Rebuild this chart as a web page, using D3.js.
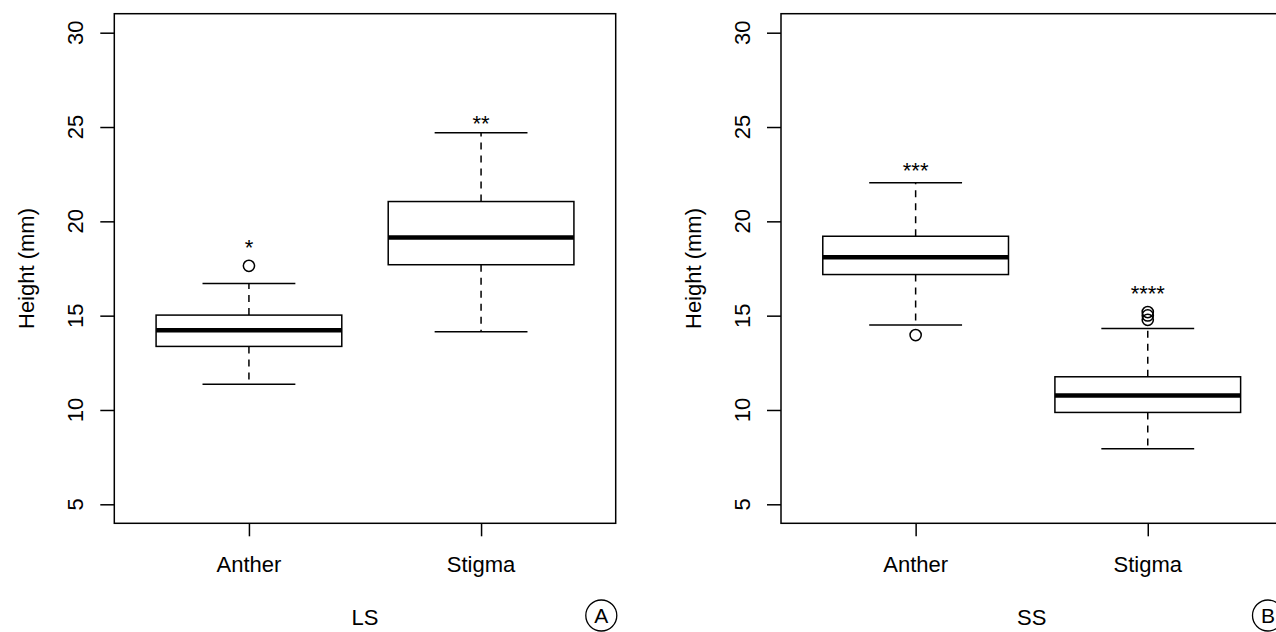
<!DOCTYPE html>
<html>
<head>
<meta charset="utf-8">
<script src="https://cdn.jsdelivr.net/npm/d3@7"></script>
<style>
  html, body { margin: 0; padding: 0; background: #fff; }
  svg { display: block; }
  text { font-family: "Liberation Sans", Arial, Helvetica, sans-serif; fill: #000; }
</style>
</head>
<body>
<svg id="chart" width="1276" height="632"></svg>
<script>
// ---- data ----
const groups = ["Anther", "Stigma"];
const panelNames = ["LS", "SS"];
const panelTags = ["A", "B"];
const yTicks = [5, 10, 15, 20, 25, 30];
const yTitle = "Height (mm)";

// LS panel
const lsLowerWhisker = [11.37, 14.15];
const lsQ1 = [13.37, 17.70];
const lsMedian = [14.22, 19.14];
const lsQ3 = [15.03, 21.05];
const lsUpperWhisker = [16.71, 24.70];
const lsOutliers = [[17.64], []];
const lsStars = ["*", "**"];
const lsStarAt = [18.9, 25.45];

// SS panel
const ssLowerWhisker = [14.50, 7.95];
const ssQ1 = [17.18, 9.87];
const ssMedian = [18.10, 10.77];
const ssQ3 = [19.21, 11.76];
const ssUpperWhisker = [22.04, 14.32];
const ssOutliers = [[13.97], [15.19, 15.01, 14.78]];
const ssStars = ["***", "****"];
const ssStarAt = [23.0, 16.45];

const panels = [
  { name: panelNames[0], tag: panelTags[0], lo: lsLowerWhisker, q1: lsQ1, med: lsMedian, q3: lsQ3, hi: lsUpperWhisker, out: lsOutliers, stars: lsStars, starAt: lsStarAt },
  { name: panelNames[1], tag: panelTags[1], lo: ssLowerWhisker, q1: ssQ1, med: ssMedian, q3: ssQ3, hi: ssUpperWhisker, out: ssOutliers, stars: ssStars, starAt: ssStarAt }
];

// ---- layout ----
const svg = d3.select("#chart");
const FS = 22;
const frameTop = 13.7, frameBottom = 523.3;
const frameW = 501.4;
const panelLeft = [114.3, 781];

const y = d3.scaleLinear().domain([5, 30]).range([504.3, 32.7]);

panels.forEach((p, pi) => {
  const L = panelLeft[pi];
  const x = d3.scaleLinear().domain([0.42, 2.58]).range([L, L + frameW]);
  const g = svg.append("g");
  const boxHW = x(1.4) - x(1);
  const capHW = x(1.2) - x(1);

  // frame
  g.append("rect")
    .attr("x", L).attr("y", frameTop)
    .attr("width", frameW).attr("height", frameBottom - frameTop)
    .attr("fill", "none").attr("stroke", "#000").attr("stroke-width", 1.5);

  // y axis
  const yAxis = d3.axisLeft(y).tickValues(yTicks).tickSize(14).tickFormat("");
  const ya = g.append("g").attr("transform", `translate(${L},0)`).call(yAxis);
  ya.select(".domain").remove();
  ya.selectAll("line").attr("stroke", "#000").attr("stroke-width", 1.5);
  g.selectAll(".ylab").data(yTicks).enter().append("text")
    .attr("transform", d => `translate(${L - 39},${y(d)}) rotate(-90)`)
    .attr("text-anchor", "middle").attr("dy", "0.35em")
    .style("font-size", FS + "px")
    .text(d => d);

  // x axis
  const xAxis = d3.axisBottom(x).tickValues([1, 2]).tickSize(13).tickFormat("");
  const xa = g.append("g").attr("transform", `translate(0,${frameBottom})`).call(xAxis);
  xa.select(".domain").remove();
  xa.selectAll("line").attr("stroke", "#000").attr("stroke-width", 1.5);
  g.selectAll(".xlab").data(groups).enter().append("text")
    .attr("x", (d, i) => x(i + 1)).attr("y", 572)
    .attr("text-anchor", "middle")
    .style("font-size", FS + "px")
    .text(d => d);

  // y title
  g.append("text")
    .attr("transform", `translate(${L - 88},${(frameTop + frameBottom) / 2}) rotate(-90)`)
    .attr("text-anchor", "middle").attr("dy", "0.35em")
    .style("font-size", FS + "px")
    .text(yTitle);

  // panel title
  g.append("text")
    .attr("x", L + frameW / 2).attr("y", 625)
    .attr("text-anchor", "middle")
    .style("font-size", FS + "px")
    .text(p.name);

  // tag circle
  const tx = L + 487;
  g.append("circle").attr("cx", tx).attr("cy", 615.5).attr("r", 15.5)
    .attr("fill", "none").attr("stroke", "#000").attr("stroke-width", 1.3);
  g.append("text").attr("x", tx).attr("y", 623)
    .attr("text-anchor", "middle")
    .style("font-size", "21px")
    .text(p.tag);

  // boxes
  groups.forEach((grp, i) => {
    const cx = x(i + 1);
    // whiskers (dashed)
    g.append("line").attr("x1", cx).attr("x2", cx)
      .attr("y1", y(p.q3[i])).attr("y2", y(p.hi[i]))
      .attr("stroke", "#000").attr("stroke-width", 1.5).attr("stroke-dasharray", "7,6");
    g.append("line").attr("x1", cx).attr("x2", cx)
      .attr("y1", y(p.q1[i])).attr("y2", y(p.lo[i]))
      .attr("stroke", "#000").attr("stroke-width", 1.5).attr("stroke-dasharray", "7,6");
    // caps
    [p.hi[i], p.lo[i]].forEach(v => {
      g.append("line").attr("x1", cx - capHW).attr("x2", cx + capHW)
        .attr("y1", y(v)).attr("y2", y(v))
        .attr("stroke", "#000").attr("stroke-width", 1.5);
    });
    // box
    g.append("rect")
      .attr("x", cx - boxHW).attr("width", 2 * boxHW)
      .attr("y", y(p.q3[i])).attr("height", y(p.q1[i]) - y(p.q3[i]))
      .attr("fill", "#fff").attr("stroke", "#000").attr("stroke-width", 1.5);
    // median
    g.append("line").attr("x1", cx - boxHW).attr("x2", cx + boxHW)
      .attr("y1", y(p.med[i])).attr("y2", y(p.med[i]))
      .attr("stroke", "#000").attr("stroke-width", 4.5);
    // outliers
    p.out[i].forEach(v => {
      g.append("circle").attr("cx", cx).attr("cy", y(v)).attr("r", 5.6)
        .attr("fill", "none").attr("stroke", "#000").attr("stroke-width", 1.5);
    });
    // significance stars
    g.append("text").attr("x", cx).attr("y", y(p.starAt[i])).attr("dy", "0.58em")
      .attr("text-anchor", "middle")
      .style("font-size", FS + "px")
      .text(p.stars[i]);
  });
});
</script>
</body>
</html>
